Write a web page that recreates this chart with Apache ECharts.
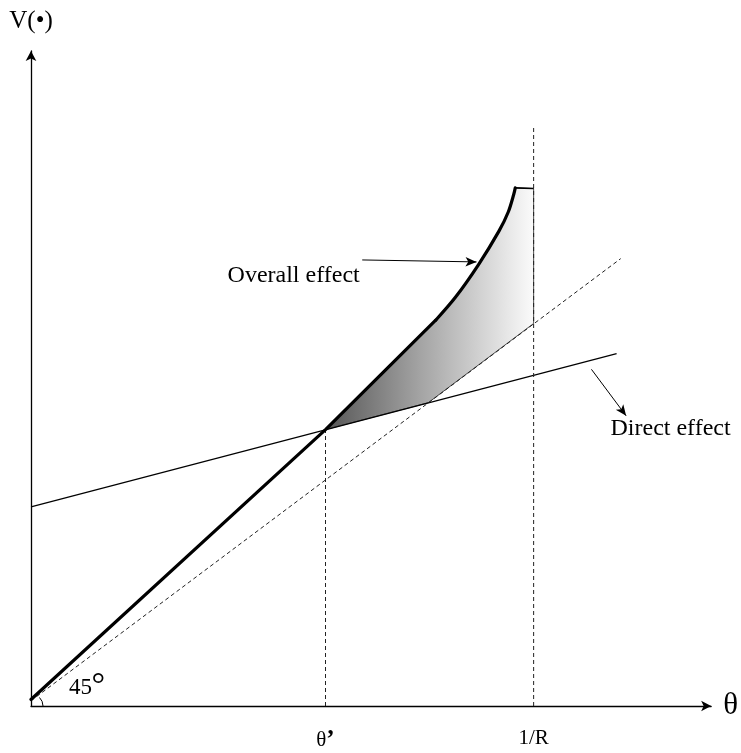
<!DOCTYPE html>
<html><head><meta charset="utf-8">
<script src="https://cdn.jsdelivr.net/npm/echarts@6/dist/echarts.min.js"></script>
<style>html,body{margin:0;padding:0;background:#fff}#c{width:741px;height:753px}</style>
</head><body><div id="c"></div>
<script>
// ---- data (abstract units: x 0..100, y 0..100) ----
const overallLineX = [0, 43.3, 59.5];
const overallLineY = [1.0, 42.2, 58.9];
const overallCurveX = [59.5, 62.4, 65.8, 68.8, 70.2, 71.0, 71.2];
const overallCurveY = [58.9, 62.4, 67.4, 72.5, 75.5, 78.2, 79.1];
const capX = [71.2, 73.9];
const capY = [79.1, 79.0];
const directX = [0, 86.1];
const directY = [30.4, 53.8];
const diagX = [0, 86.7];
const diagY = [0.8, 68.3];
const shadeX = [43.3, 59.5, 62.4, 65.8, 68.8, 70.2, 71.0, 71.2, 73.9, 73.9, 58.4];
const shadeY = [42.2, 58.9, 62.4, 67.4, 72.5, 75.5, 78.2, 79.1, 79.0, 58.4, 46.3];
const thetaPrimeX = [43.3, 43.3];
const thetaPrimeY = [0, 42.2];
const invRX = [73.9, 73.9];
const invRY = [0, 88.7];
const tickValues = [43.3, 73.9];
const tickLabels = ['θ’', '1/R'];
const annoText = ['Overall effect', 'Direct effect', '45', '°'];
const annoX = [28.9, 85.2, 5.6, 8.9];
const annoY = [65.7, 42.3, 2.7, 3.0];
const arrowFrom = [[48.7, 68.1], [82.4, 51.4]];
const arrowTo = [[65.5, 67.8], [87.5, 44.3]];

const SERIF = "'Liberation Serif','Times New Roman',serif";
const zip = (xs, ys) => xs.map((x, i) => [x, ys[i]]);
const annoSize = {'Overall effect': 24, 'Direct effect': 24, '45': 23, '°': 34};

const chart = echarts.init(document.getElementById('c'), null, {renderer: 'canvas'});
chart.setOption({
  animation: false,
  backgroundColor: '#fff',
  grid: {left: 31, right: 28, top: 51, bottom: 40},
  xAxis: {
    type: 'value', min: 0, max: 100,
    splitLine: {show: false},
    axisTick: {show: false},
    axisLine: {show: true, onZero: false, symbol: ['none', 'arrow'], symbolSize: [8, 10],
      lineStyle: {color: '#000', width: 1.3}},
    axisLabel: {
      show: true, customValues: tickValues, margin: 22,
      formatter: v => {
        const i = tickValues.indexOf(v);
        if (i < 0) return '';
        return i === 0 ? '{t|θ}{p|’}' : '{t|' + tickLabels[i] + '}';
      },
      rich: {
        t: {fontFamily: SERIF, fontSize: 21, color: '#000'},
        p: {fontFamily: SERIF, fontSize: 25, fontWeight: 'bold', color: '#000'}
      }
    },
    name: 'θ', nameLocation: 'end', nameGap: 12,
    nameTextStyle: {fontFamily: SERIF, fontSize: 31, color: '#000', verticalAlign: 'middle'}
  },
  yAxis: {
    type: 'value', min: 0, max: 100,
    splitLine: {show: false},
    axisTick: {show: false},
    axisLabel: {show: false},
    axisLine: {show: true, onZero: false, symbol: ['none', 'arrow'], symbolSize: [8, 10],
      lineStyle: {color: '#000', width: 1.3}},
    name: 'V(•)', nameLocation: 'end', nameGap: 17,
    nameTextStyle: {fontFamily: SERIF, fontSize: 25, color: '#000', align: 'center'}
  },
  series: [
    {
      type: 'custom', silent: true, z: 1,
      data: zip(shadeX, shadeY),
      renderItem: (params, api) => {
        if (params.dataIndex !== 0) return null;
        const pts = shadeX.map((x, i) => api.coord([x, shadeY[i]]));
        return {
          type: 'polygon',
          shape: {points: pts},
          style: {
            fill: new echarts.graphic.LinearGradient(0, 0, 1, 0, [
              {offset: 0, color: '#555555'},
              {offset: 0.45, color: '#a3a3a3'},
              {offset: 1, color: '#fbfbfb'}
            ]),
            stroke: '#222', lineWidth: 0.8
          }
        };
      }
    },
    {
      type: 'custom', silent: true, z: 5,
      data: [[0, 0]],
      renderItem: (params, api) => {
        const o = api.coord([0, 0]);
        return {
          type: 'arc',
          shape: {cx: o[0], cy: o[1], r: 12, startAngle: -Math.PI / 4, endAngle: 0, clockwise: true},
          style: {stroke: '#000', fill: null, lineWidth: 1}
        };
      }
    },
    {type: 'line', data: zip(directX, directY), symbol: 'none', silent: true, z: 3,
      lineStyle: {color: '#000', width: 1.2}},
    {type: 'line', data: zip(diagX, diagY), symbol: 'none', silent: true, z: 3,
      lineStyle: {color: '#222', width: 1, type: [4, 3]}},
    {type: 'line', data: zip(thetaPrimeX, thetaPrimeY), symbol: 'none', silent: true, z: 3,
      lineStyle: {color: '#222', width: 1, type: [4, 3]}},
    {type: 'line', data: zip(invRX, invRY), symbol: 'none', silent: true, z: 3,
      lineStyle: {color: '#222', width: 1, type: [4, 3]}},
    {type: 'line', data: zip(overallLineX, overallLineY), symbol: 'none', silent: true, z: 6,
      lineStyle: {color: '#000', width: 3.2, join: 'round', cap: 'round'}},
    {type: 'line', data: zip(overallCurveX, overallCurveY), symbol: 'none', silent: true, z: 6,
      smooth: 0.3,
      lineStyle: {color: '#000', width: 3.2, join: 'round', cap: 'round'}},
    {type: 'line', data: zip(capX, capY), symbol: 'none', silent: true, z: 6,
      lineStyle: {color: '#000', width: 1.6}},
    {
      type: 'scatter', symbolSize: 0, silent: true, z: 10,
      data: annoText.map((t, i) => ({
        name: t, value: [annoX[i], annoY[i]],
        label: {
          show: true, position: 'right', distance: 0, formatter: '{b}',
          fontFamily: SERIF, color: '#000', opacity: 1,
          fontSize: annoSize[t]
        }
      })),
      markLine: {
        silent: true, animation: false,
        symbol: ['none', 'arrow'], symbolSize: [7, 11],
        label: {show: false},
        lineStyle: {color: '#000', width: 1, type: 'solid'},
        data: arrowFrom.map((f, i) => [{coord: f}, {coord: arrowTo[i]}])
      }
    }
  ]
});
</script></body></html>
